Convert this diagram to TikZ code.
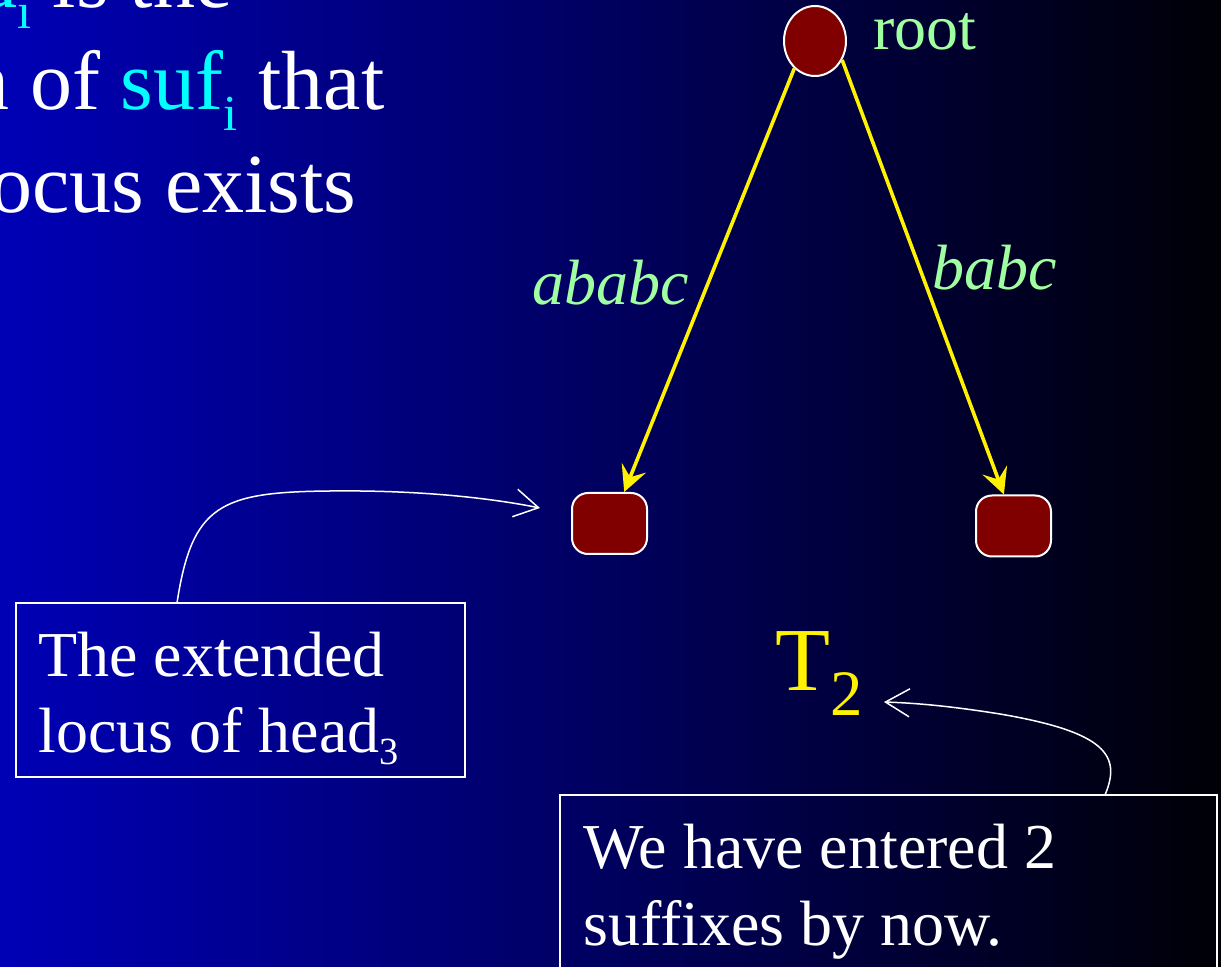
\documentclass[tikz,border=0pt]{standalone}
\usepackage{fontspec}
\setmainfont{Liberation Serif}
\usetikzlibrary{shapes.geometric,arrows.meta}
\definecolor{bgl}{RGB}{0,0,182}
\definecolor{bgr}{RGB}{0,0,6}
\definecolor{nodered}{RGB}{128,0,0}
\definecolor{lbl}{RGB}{160,255,160}
\definecolor{cyantxt}{RGB}{0,255,255}
\newcommand\lowsub[3]{\raisebox{-#2em}{\scalebox{#1}{#3}}}
\begin{document}
\begin{tikzpicture}[x=0.5pt,y=-0.5pt,
  bigtext/.style={inner sep=0pt,text=white,font=\fontsize{42}{50}\selectfont},
  lbltext/.style={inner sep=0pt,text=lbl,font=\fontsize{32}{38}\selectfont},
  boxtext/.style={inner sep=0pt,text=white,font=\fontsize{32}{38}\selectfont,anchor=base west},
  calloutbox/.style={draw=white,line width=0.9pt,inner sep=0pt,rectangle},
  rootnode/.style={ellipse,draw=white,line width=1pt,fill=nodered,minimum width=31pt,minimum height=35pt,inner sep=0pt},
  leafnode/.style={rectangle,rounded corners=8pt,draw=white,line width=1pt,fill=nodered,minimum width=37.5pt,minimum height=30.5pt,inner sep=0pt},
  treeedge/.style={draw=yellow,line width=1.8pt,-{Stealth[length=13pt,width=13pt,inset=5pt]}},
  callout/.style={draw=white,line width=0.75pt,-{Straight Barb[length=12pt,width=14pt,line width=0.75pt]}}
]
\useasboundingbox (0,0) rectangle (1221,967);
\clip (0,0) rectangle (1221,967);
\shade[left color=bgl,right color=bgr] (0,0) rectangle (1221,967);

% partial text at top left
\node[bigtext,anchor=base east] (l1) at (233,8) {\textcolor{cyantxt}{head\lowsub{0.6}{0.24}{i}} is the};
\node[bigtext,anchor=base east] (l2) at (385,110) {extension of \textcolor{cyantxt}{suf\lowsub{0.6}{0.24}{i}} that};
\node[bigtext,anchor=base east] (l3) at (357,213) {locus exists};

% tree
\node[rootnode] (root) at (815,41) {};
\node[lbltext,anchor=base west] (rootlbl) at (873,50) {root};
\node[leafnode] (leafL) at (609.5,523.5) {};
\node[leafnode] (leafR) at (1013.5,526) {};
\draw[treeedge] (root.233) -- (leafL.65);
\draw[treeedge] (root.-35) -- (leafR.107);
\node[lbltext,anchor=base west] (lblL) at (532,305) {\itshape ababc};
\node[lbltext,anchor=base west] (lblR) at (932,290) {\itshape babc};

% T_2
\node[inner sep=0pt,text=yellow,font=\fontsize{45}{54}\selectfont,anchor=base west] (T2) at (775,690) {T\lowsub{0.72}{0.28}{2}};

% callout boxes
\node[calloutbox,minimum width=224.5pt,minimum height=87pt] (box1) at (240.5,690) {};
\node[boxtext] (b1a) at (38,676) {The extended};
\node[boxtext] (b1b) at (38,752) {locus of head\lowsub{0.6}{0.2}{3}};

\node[calloutbox,minimum width=328.5pt,minimum height=100pt] (box2) at (888.5,895) {};
\node[boxtext] (b2a) at (583,868) {We have entered 2};
\node[boxtext] (b2b) at (583,945) {suffixes by now.};

% callout curves
\coordinate (c1s) at (177,603);
\coordinate (c1e) at (540,508);
\draw[callout] (c1s) .. controls (192,505) and (220,492) .. (330,491) .. controls (420,490) and (490,498) .. (c1e);
\coordinate (c2s) at (1105,795);
\coordinate (c2e) at (884,702);
\draw[callout] (c2s) .. controls (1122,755) and (1105,732) .. (1000,714) .. controls (950,706) and (915,703) .. (c2e);
\end{tikzpicture}
\end{document}
